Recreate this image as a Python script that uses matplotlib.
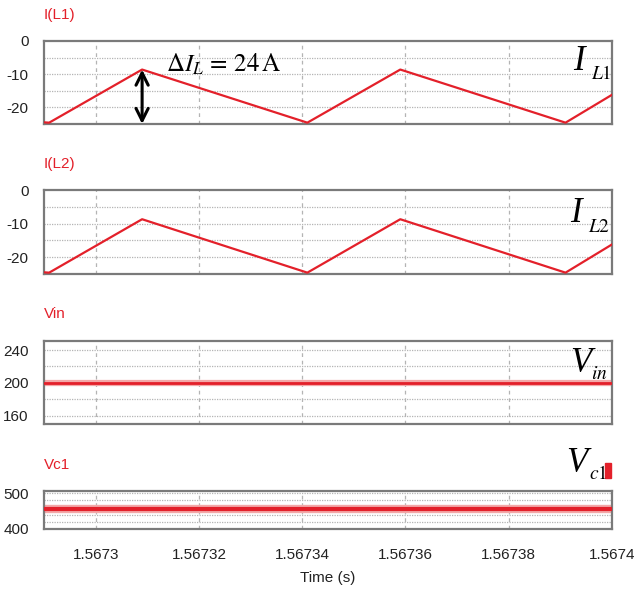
import matplotlib
matplotlib.use("Agg")
import matplotlib.pyplot as plt
from matplotlib.patches import Rectangle

# --- data ---
t_il = [1.56729, 1.567291, 1.567309, 1.567341, 1.567359, 1.567391, 1.5674]
il1 = [-24.5, -24.6, -8.6, -24.6, -8.6, -24.6, -16.2]
il2 = [-24.5, -24.6, -8.7, -24.6, -8.7, -24.6, -16.2]
t_v = [1.56729, 1.5674]
vin = [200, 200]
vc1 = [455, 455]

xticks = [1.5673, 1.56732, 1.56734, 1.56736, 1.56738, 1.5674]
xtick_labels = ["1.5673", "1.56732", "1.56734", "1.56736", "1.56738", "1.5674"]

RED = "#e3202a"
GRID = "#b4b4b4"
TICK_FONT = ["Liberation Sans", "DejaVu Sans"]
TFS = 11

plt.rcParams["mathtext.fontset"] = "stix"

W, H = 642, 599
fig = plt.figure(figsize=(W / 100, H / 100), dpi=100)


def px(x, y):
    return x / W, 1 - y / H


def make_axes(top, bottom, title, title_y, ylim, yticks, hgrid):
    l, t = px(44, top)
    r, b = px(612, bottom)
    ax = fig.add_axes([l, b, r - l, t - b])
    ax.set_xlim(1.56729, 1.5674)
    ax.set_ylim(*ylim)
    ax.set_yticks(yticks)
    ax.set_yticklabels([str(v) for v in yticks], family=TICK_FONT,
                       fontsize=TFS, color="#222222")
    ax.set_xticks(xticks)
    ax.tick_params(length=0, pad=11)
    ax.tick_params(axis="x", labelbottom=False)
    for v in hgrid:
        ax.axhline(v, color=GRID, lw=0.9, ls=(0, (1, 1)), zorder=0)
    for v in xticks:
        ax.axvline(v, color=GRID, lw=0.9, ls=(0, (3, 3)), zorder=0)
    for s in ax.spines.values():
        s.set_color("#7a7a7a")
        s.set_linewidth(1.6)
    fx, fy = px(44, title_y)
    fig.text(fx, fy, title, color=RED, family=TICK_FONT, fontsize=TFS,
             ha="left", va="center")
    return ax


ax1 = make_axes(41, 124, "I(L1)", 15, (-25, 0), [0, -10, -20], [-5, -10, -15, -20])
ax2 = make_axes(190, 274, "I(L2)", 164, (-25, 0), [0, -10, -20], [-5, -10, -15, -20])
ax3 = make_axes(341, 424, "Vin", 314, (150, 251), [240, 200, 160], [160, 180, 220, 240])
ax4 = make_axes(491, 529, "Vc1", 465, (400, 506), [500, 400], [420, 440, 460, 480, 500])

ax1.plot(t_il, il1, color=RED, lw=1.6, zorder=3)
ax2.plot(t_il, il2, color=RED, lw=1.6, zorder=3)
ax3.plot(t_v, vin, color="#f3a8a8", lw=4.5, zorder=2)
ax3.plot(t_v, vin, color=RED, lw=2.0, zorder=3)
ax4.plot(t_v, vc1, color="#f3a8a8", lw=6, zorder=2)
ax4.plot(t_v, vc1, color=RED, lw=3.0, zorder=3)

ax4.tick_params(axis="x", labelbottom=True, pad=14)
ax4.set_xticklabels(xtick_labels, family=TICK_FONT, fontsize=TFS, color="#222222")
fx, fy = px(328, 578)
fig.text(fx, fy, "Time (s)", family=TICK_FONT, fontsize=TFS, color="#222222",
         ha="center", va="center")

# ripple arrow at the first peak of I(L1)
ipk = il1.index(max(il1))
ax1.annotate("", xy=(t_il[ipk], ax1.get_ylim()[0]), xytext=(t_il[ipk], il1[ipk]),
             arrowprops=dict(arrowstyle="<->", color="black", lw=2.2,
                             mutation_scale=22, shrinkA=0, shrinkB=0),
             annotation_clip=False, zorder=5)
fx, fy = px(166, 72)
fig.text(fx, fy, r"$\Delta I_L\,=\,24\,\mathrm{A}$", fontsize=18, ha="left",
         va="baseline")

# signal names on the right
SERIF = ["Liberation Serif", "DejaVu Serif"]


def sig_label(main, sub, x_main, y_main, x_sub, y_sub):
    fx, fy = px(x_main, y_main)
    fig.text(fx, fy, main, family=SERIF, style="italic", fontsize=25,
             ha="left", va="baseline")
    fx, fy = px(x_sub, y_sub)
    fig.text(fx, fy, sub, fontsize=14, ha="left", va="baseline")


sig_label("I", r"$L\mathrm{1}$", 573, 70, 591, 79)
sig_label("I", r"$L\mathrm{2}$", 570, 222, 588, 232)
sig_label("V", r"$in$", 570, 372, 591, 379)
sig_label("V", r"$c\mathrm{1}$", 566, 472, 589, 479)
l, t = px(605, 463)
r, b = px(611, 478)
fig.patches.append(Rectangle((l, b), r - l, t - b, transform=fig.transFigure,
                             color=RED, figure=fig))

fig.savefig("out.png", dpi=100)
